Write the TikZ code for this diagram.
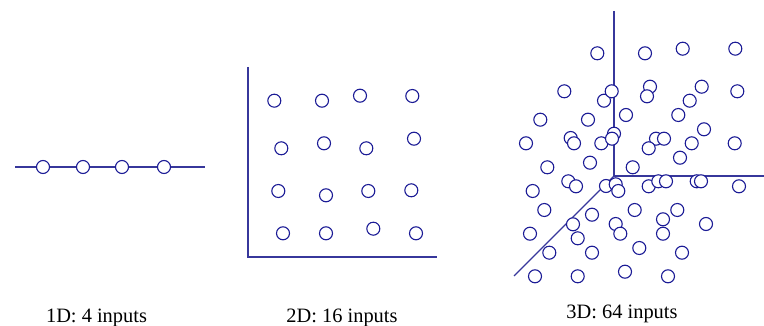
\documentclass[tikz,border=0pt]{standalone}
\usepackage{fontspec}
\setmainfont{Liberation Serif}
\definecolor{dotblue}{RGB}{28,28,150}
\definecolor{axisblue}{RGB}{55,55,155}
\begin{document}
\begin{tikzpicture}[x=1pt,y=-1pt,
  pt/.style={circle,draw=dotblue,fill=white,line width=1.1pt,minimum size=13pt,inner sep=0pt},
  axis/.style={draw=axisblue,line width=1.1pt},
  lbl/.style={font=\fontsize{20.4}{22}\selectfont,anchor=base,inner sep=0pt}]
\useasboundingbox (0,0) rectangle (764,326);

% ---- 1D: a line with four inputs
\coordinate (l1) at (15,167);
\coordinate (l2) at (205,167);
\draw[axis] (l1) -- (l2);
\foreach \x [count=\i] in {43,83,122,164}
  \node[pt] (a\i) at (\x,167) {};
\node[lbl] (t1) at (96.5,323) {1D: 4 inputs};

% ---- 2D: a plane with sixteen inputs
\coordinate (o2) at (248,257);
\coordinate (y2) at (248,67);
\coordinate (x2) at (437,257);
\draw[axis] (y2) -- (o2) -- (x2);
\foreach \x/\y [count=\i] in {
  274.3/100.7, 322/100.7, 360/95.7, 412.3/96,
  281.3/148.3, 324/143.3, 366.3/148.3, 414/138.7,
  278.3/191, 326/195.3, 368.3/191, 411.3/190.3,
  283/233.3, 326/233.3, 373.3/228.7, 416/233.3}
  \node[pt] (b\i) at (\x,\y) {};
\node[lbl] (t2) at (342,323) {2D: 16 inputs};

% ---- 3D: a cube of space with sixty-four inputs
\coordinate (o3) at (614,176);
\coordinate (z3) at (614,11);
\coordinate (x3) at (764,176);
\coordinate (y3) at (514,276);
\draw[axis] (z3) -- (o3) -- (x3);
\draw[axis] (o3) -- (y3);
\foreach \x/\y [count=\i] in {
  597.3/53.3, 645/53.3, 682.7/48.7, 735.3/48.7,
  564.3/91.3, 650/86.7, 647/96.3, 701.7/86.7, 689.7/100.7, 737.3/91.3,
  604/100.7, 611.7/91.3,
  540.3/119.7, 588/119.7, 626/115, 678.3/115, 704/129.3,
  526/143.3, 570.7/138, 574/143.3, 601.3/143.3, 614/133.7, 612/138.7,
  656/138.7, 664/138.7, 648.7/148.3, 691.7/143.3, 734.7/143.3,
  680/157.7, 590/162.7,
  547.3/167.3, 632.7/167.3,
  568.3/181.3, 576/186.3, 532.7/191, 606/186, 615.7/184.3, 618.3/191,
  648.7/186.3, 658.3/181.3, 666/181.3, 696.7/181.3, 701/181.3, 739/186.3,
  544.3/210, 592/214.7, 634.7/210, 677.3/210, 663/219.3,
  573/224.3, 615.7/224, 706/224,
  530/233.7, 577.7/238.3, 620.3/233.7, 663/233.7, 639.3/248,
  549.3/252.7, 592/252.7, 682/252.7,
  535/276.3, 577.7/276.3, 625/271.7, 668/276.3}
  \node[pt] (c\i) at (\x,\y) {};
\node[lbl] (t3) at (622,318) {3D: 64 inputs};
\end{tikzpicture}
\end{document}
